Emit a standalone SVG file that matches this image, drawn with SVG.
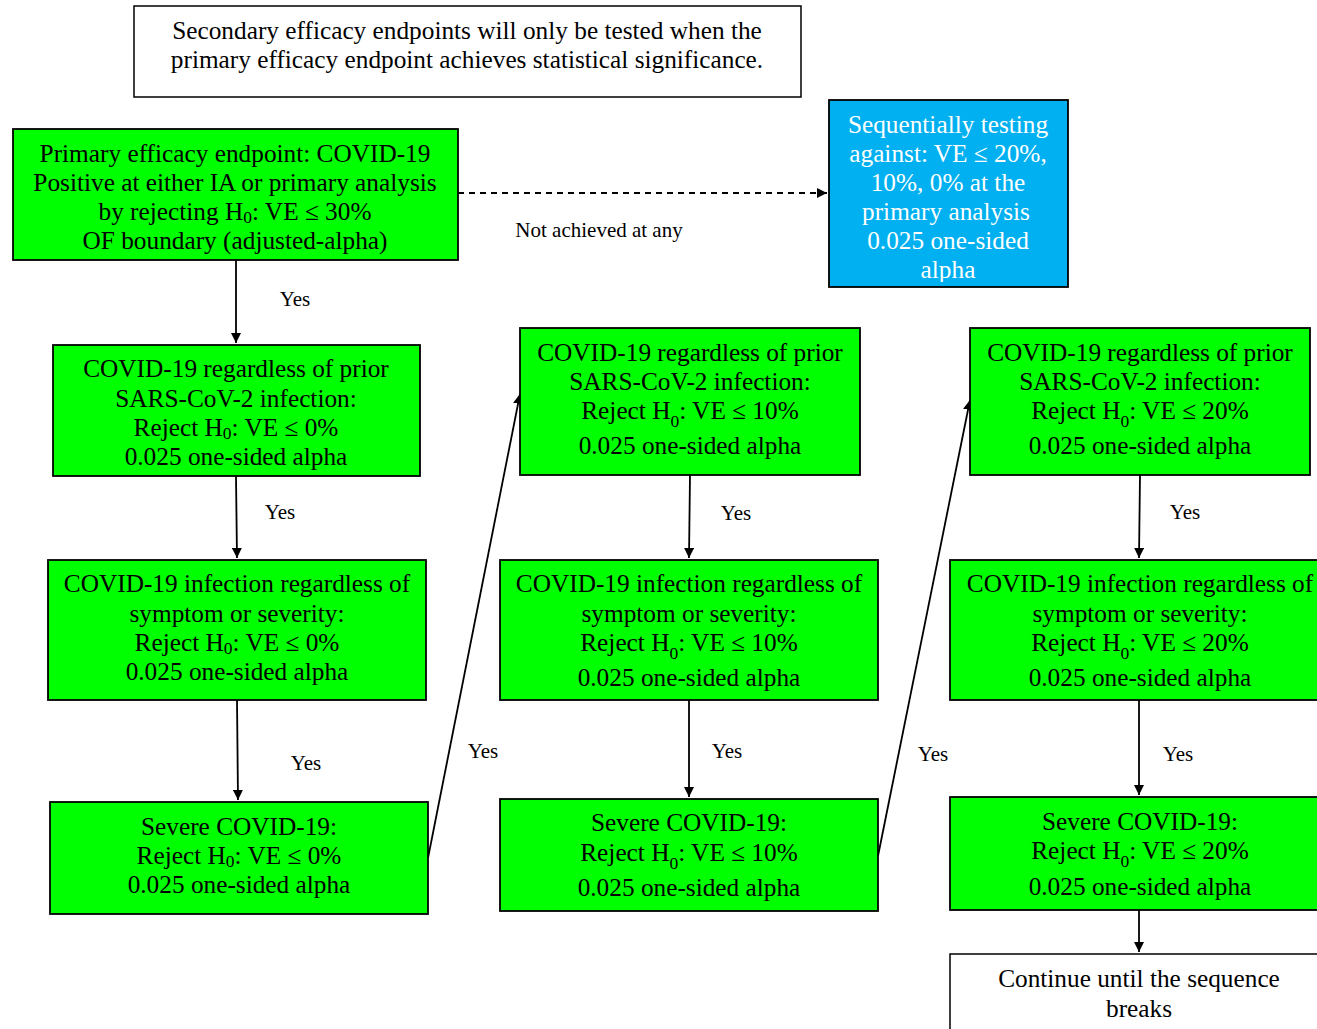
<svg xmlns="http://www.w3.org/2000/svg" width="1317" height="1029" viewBox="0 0 1317 1029">
<defs>
<style>
.box{fill:#00FF00;stroke:#000;stroke-width:1.8}
.wbox{fill:#fff;stroke:#000;stroke-width:1.5}
.blue{fill:#00B0F0;stroke:#000;stroke-width:1.8}
text{font-family:'Liberation Serif','Times New Roman',serif}
.t{font-size:25.3px;fill:#000;text-anchor:middle}
.tw{font-size:25.3px;fill:#fff;text-anchor:middle}
.lbl{font-size:21px;fill:#000;text-anchor:middle}
.c{stroke:#000;stroke-width:1.8;fill:none}
.sub{font-size:17.5px}
</style>
<marker id="ah" viewBox="0 0 10 10" refX="10" refY="5" markerWidth="10" markerHeight="10" markerUnits="userSpaceOnUse" orient="auto">
<path d="M0,0 L10,5 L0,10 z" fill="#000"/>
</marker>
<clipPath id="clipBlue"><rect x="829" y="100" width="239" height="182"/></clipPath>
</defs>
<rect width="1317" height="1029" fill="#fff"/>

<g id="connectors">
<line class="c" x1="458" y1="193" x2="827" y2="193" stroke-dasharray="6,5" marker-end="url(#ah)"/>
<line class="c" x1="236" y1="260" x2="236" y2="343" marker-end="url(#ah)"/>
<line class="c" x1="236" y1="476" x2="237" y2="558" marker-end="url(#ah)"/>
<line class="c" x1="237" y1="700" x2="238" y2="800" marker-end="url(#ah)"/>
<line class="c" x1="428" y1="858" x2="520" y2="394" marker-end="url(#ah)"/>
<line class="c" x1="690" y1="475" x2="689" y2="558" marker-end="url(#ah)"/>
<line class="c" x1="689" y1="700" x2="689" y2="797" marker-end="url(#ah)"/>
<line class="c" x1="878" y1="856" x2="970" y2="400" marker-end="url(#ah)"/>
<line class="c" x1="1140" y1="475" x2="1139" y2="558" marker-end="url(#ah)"/>
<line class="c" x1="1139" y1="700" x2="1139" y2="795" marker-end="url(#ah)"/>
<line class="c" x1="1139" y1="910" x2="1139" y2="952" marker-end="url(#ah)"/>
<text class="lbl" x="599" y="237">Not achieved at any</text>
<text class="lbl" x="295" y="306">Yes</text>
<text class="lbl" x="280" y="519">Yes</text>
<text class="lbl" x="306" y="770">Yes</text>
<text class="lbl" x="483" y="758">Yes</text>
<text class="lbl" x="736" y="520">Yes</text>
<text class="lbl" x="727" y="758">Yes</text>
<text class="lbl" x="933" y="761">Yes</text>
<text class="lbl" x="1185" y="519">Yes</text>
<text class="lbl" x="1178" y="761">Yes</text>
</g>

<g id="note">
<rect class="wbox" x="134" y="6" width="667" height="91"/>
<text class="t" x="467" y="39">Secondary efficacy endpoints will only be tested when the</text>
<text class="t" x="467" y="68">primary efficacy endpoint achieves statistical significance.</text>
</g>

<g id="primary">
<rect class="box" x="13" y="129" width="445" height="131"/>
<text class="t" x="235" y="162">Primary efficacy endpoint: COVID-19</text>
<text class="t" x="235" y="191">Positive at either IA or primary analysis</text>
<text class="t" x="235" y="220">by rejecting H<tspan class="sub" dy="3">0</tspan><tspan dy="-3">: VE ≤ 30%</tspan></text>
<text class="t" x="235" y="249">OF boundary (adjusted-alpha)</text>
</g>

<g id="sequential">
<rect class="blue" x="829" y="100" width="239" height="187"/>
<g clip-path="url(#clipBlue)">
<text class="tw" x="948" y="133">Sequentially testing</text>
<text class="tw" x="948" y="162">against: VE ≤ 20%,</text>
<text class="tw" x="948" y="191">10%, 0% at the</text>
<text class="tw" x="946" y="220">primary analysis</text>
<text class="tw" x="948" y="249">0.025 one-sided</text>
<text class="tw" x="948" y="278">alpha</text>
</g>
</g>

<g id="a1">
<rect class="box" x="53" y="345" width="367" height="131"/>
<text class="t" x="236" y="377">COVID-19 regardless of prior</text>
<text class="t" x="236" y="407">SARS-CoV-2 infection:</text>
<text class="t" x="236" y="436">Reject H<tspan class="sub" dy="3">0</tspan><tspan dy="-3">: VE ≤ 0%</tspan></text>
<text class="t" x="236" y="465">0.025 one-sided alpha</text>
</g>

<g id="a2">
<rect class="box" x="48" y="560" width="378" height="140"/>
<text class="t" x="237" y="592">COVID-19 infection regardless of</text>
<text class="t" x="237" y="622">symptom or severity:</text>
<text class="t" x="237" y="651">Reject H<tspan class="sub" dy="3">0</tspan><tspan dy="-3">: VE ≤ 0%</tspan></text>
<text class="t" x="237" y="680">0.025 one-sided alpha</text>
</g>

<g id="a3">
<rect class="box" x="50" y="802" width="378" height="112"/>
<text class="t" x="239" y="835">Severe COVID-19:</text>
<text class="t" x="239" y="864">Reject H<tspan class="sub" dy="3">0</tspan><tspan dy="-3">: VE ≤ 0%</tspan></text>
<text class="t" x="239" y="893">0.025 one-sided alpha</text>
</g>

<g id="b1">
<rect class="box" x="520" y="328" width="340" height="147"/>
<text class="t" x="690" y="361">COVID-19 regardless of prior</text>
<text class="t" x="690" y="390">SARS-CoV-2 infection:</text>
<text class="t" x="690" y="419">Reject H<tspan class="sub" dy="8">0</tspan><tspan dy="-8">: VE ≤ 10%</tspan></text>
<text class="t" x="690" y="454">0.025 one-sided alpha</text>
</g>

<g id="b2">
<rect class="box" x="500" y="560" width="378" height="140"/>
<text class="t" x="689" y="592">COVID-19 infection regardless of</text>
<text class="t" x="689" y="622">symptom or severity:</text>
<text class="t" x="689" y="651">Reject H<tspan class="sub" dy="8">0</tspan><tspan dy="-8">: VE ≤ 10%</tspan></text>
<text class="t" x="689" y="686">0.025 one-sided alpha</text>
</g>

<g id="b3">
<rect class="box" x="500" y="799" width="378" height="112"/>
<text class="t" x="689" y="831">Severe COVID-19:</text>
<text class="t" x="689" y="861">Reject H<tspan class="sub" dy="8">0</tspan><tspan dy="-8">: VE ≤ 10%</tspan></text>
<text class="t" x="689" y="896">0.025 one-sided alpha</text>
</g>

<g id="c1">
<rect class="box" x="970" y="328" width="340" height="147"/>
<text class="t" x="1140" y="361">COVID-19 regardless of prior</text>
<text class="t" x="1140" y="390">SARS-CoV-2 infection:</text>
<text class="t" x="1140" y="419">Reject H<tspan class="sub" dy="8">0</tspan><tspan dy="-8">: VE ≤ 20%</tspan></text>
<text class="t" x="1140" y="454">0.025 one-sided alpha</text>
</g>

<g id="c2">
<rect class="box" x="950" y="560" width="380" height="140"/>
<text class="t" x="1140" y="592">COVID-19 infection regardless of</text>
<text class="t" x="1140" y="622">symptom or severity:</text>
<text class="t" x="1140" y="651">Reject H<tspan class="sub" dy="8">0</tspan><tspan dy="-8">: VE ≤ 20%</tspan></text>
<text class="t" x="1140" y="686">0.025 one-sided alpha</text>
</g>

<g id="c3">
<rect class="box" x="950" y="797" width="380" height="113"/>
<text class="t" x="1140" y="830">Severe COVID-19:</text>
<text class="t" x="1140" y="859">Reject H<tspan class="sub" dy="8">0</tspan><tspan dy="-8">: VE ≤ 20%</tspan></text>
<text class="t" x="1140" y="895">0.025 one-sided alpha</text>
</g>

<g id="c4">
<rect class="wbox" x="950" y="954" width="380" height="90"/>
<text class="t" x="1139" y="987">Continue until the sequence</text>
<text class="t" x="1139" y="1017">breaks</text>
</g>
</svg>
